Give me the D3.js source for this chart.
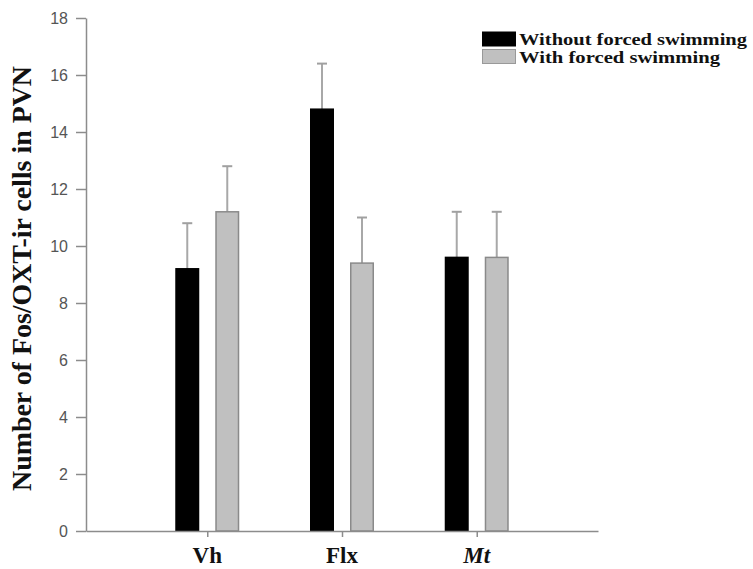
<!DOCTYPE html>
<html>
<head>
<meta charset="utf-8">
<script src="https://cdn.jsdelivr.net/npm/d3@7"></script>
<style>
  html, body { margin: 0; padding: 0; background: #fff; }
  svg { display: block; }
</style>
</head>
<body>
<svg id="chart" width="753" height="569"></svg>
<script>
const categories = ["Vh", "Flx", "Mt"];
const seriesNames = ["Without forced swimming", "With forced swimming"];
const withoutMeans = [9.2, 14.8, 9.6];
const withoutErrors = [1.6, 1.6, 1.6];
const withMeans = [11.2, 9.4, 9.6];
const withErrors = [1.6, 1.6, 1.6];
const yTicks = [0, 2, 4, 6, 8, 10, 12, 14, 16, 18];

const svg = d3.select("#chart");
const x0 = 86, x1 = 598, yTop = 18, yBottom = 531;

const x = d3.scalePoint().domain(categories).range([x0, x1]).padding(0.9);
const xSub = d3.scaleBand().domain(seriesNames).range([-32, 32]).paddingInner(0.4).paddingOuter(0);
const y = d3.scaleLinear().domain([0, 18]).range([yBottom, yTop]);

const fills = ["#000000", "#c0c0c0"];
const strokes = ["#000000", "#8a8a8a"];
const means = [withoutMeans, withMeans];
const errs = [withoutErrors, withErrors];

// error bars
seriesNames.forEach((s, si) => {
  const g = svg.append("g");
  categories.forEach((c, ci) => {
    const cx = x(c) + xSub(s) + xSub.bandwidth() / 2;
    const top = y(means[si][ci] + errs[si][ci]);
    g.append("line").attr("x1", cx).attr("x2", cx)
      .attr("y1", y(means[si][ci])).attr("y2", top)
      .attr("stroke", "#a8a8a8").attr("stroke-width", 2);
    g.append("line").attr("x1", cx - 5).attr("x2", cx + 5)
      .attr("y1", top).attr("y2", top)
      .attr("stroke", "#a0a0a0").attr("stroke-width", 2);
  });
});

// bars
seriesNames.forEach((s, si) => {
  svg.append("g").selectAll("rect")
    .data(categories)
    .join("rect")
    .attr("x", c => x(c) + xSub(s) + 0.75)
    .attr("width", xSub.bandwidth() - 1.5)
    .attr("y", (c, ci) => y(means[si][ci]))
    .attr("height", (c, ci) => y(0) - y(means[si][ci]))
    .attr("fill", fills[si])
    .attr("stroke", strokes[si])
    .attr("stroke-width", 1.5);
});

// y axis
const yAxis = svg.append("g")
  .attr("transform", `translate(${x0},0)`)
  .call(d3.axisLeft(y).tickValues(yTicks).tickSize(10).tickPadding(8).tickSizeOuter(0));
yAxis.select(".domain").attr("stroke", "#8c8c8c").attr("stroke-width", 1.5);
yAxis.selectAll(".tick line").attr("stroke", "#8c8c8c").attr("stroke-width", 1.5);
yAxis.selectAll(".tick text")
  .attr("fill", "#555")
  .style("font-family", "Arial, 'Liberation Sans', sans-serif")
  .style("font-size", "16px");

// x axis
const xAxis = svg.append("g")
  .attr("transform", `translate(0,${yBottom})`)
  .call(d3.axisBottom(x).tickSize(6).tickSizeOuter(0).tickFormat(() => ""));
xAxis.select(".domain").attr("stroke", "#8c8c8c").attr("stroke-width", 1.5);
xAxis.selectAll(".tick line").attr("stroke", "#8c8c8c").attr("stroke-width", 1.5);

// x category labels
svg.append("g").selectAll("text")
  .data(categories)
  .join("text")
  .attr("x", d => x(d))
  .attr("y", 563)
  .attr("text-anchor", "middle")
  .style("font-family", "'Liberation Serif', 'Times New Roman', serif")
  .style("font-weight", "bold")
  .style("font-style", d => d === "Mt" ? "italic" : "normal")
  .style("font-size", "23px")
  .attr("fill", "#111")
  .text(d => d);

// y title
svg.append("text")
  .attr("transform", `translate(31,${(66 + 491) / 2}) rotate(-90)`)
  .attr("text-anchor", "middle")
  .attr("textLength", 425)
  .attr("lengthAdjust", "spacingAndGlyphs")
  .style("font-family", "'Liberation Serif', 'Times New Roman', serif")
  .style("font-weight", "bold")
  .style("font-size", "27px")
  .attr("fill", "#111")
  .text("Number of Fos/OXT-ir cells in PVN");

// legend
const legendLengths = [228, 201];
const legend = svg.append("g");
seriesNames.forEach((s, si) => {
  const ly = 32 + si * 17.5;
  legend.append("rect")
    .attr("x", 482.5).attr("y", ly)
    .attr("width", 33).attr("height", 14)
    .attr("fill", fills[si])
    .attr("stroke", si === 0 ? "#000" : "#999")
    .attr("stroke-width", 1);
  legend.append("text")
    .attr("x", 519).attr("y", ly + 13)
    .attr("textLength", legendLengths[si])
    .attr("lengthAdjust", "spacingAndGlyphs")
    .style("font-family", "'Liberation Serif', 'Times New Roman', serif")
    .style("font-weight", "bold")
    .style("font-size", "17px")
    .attr("fill", "#111")
    .text(s);
});
</script>
</body>
</html>
